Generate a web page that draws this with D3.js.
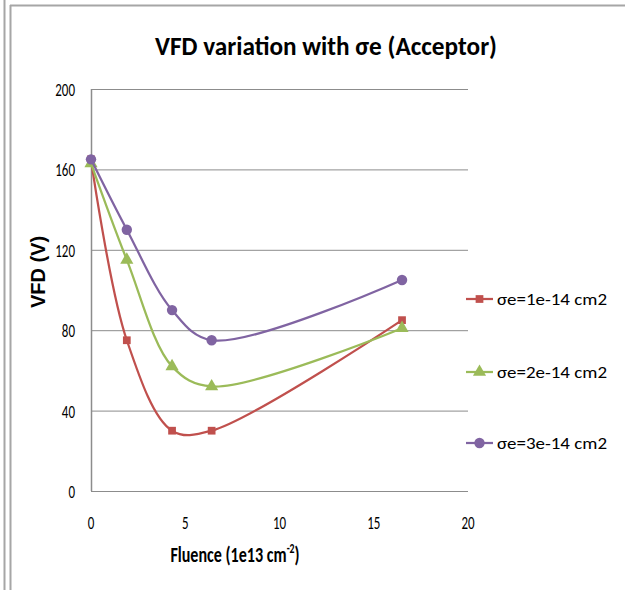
<!DOCTYPE html>
<html>
<head>
<script src="https://cdn.jsdelivr.net/npm/d3@7/dist/d3.min.js"></script>
<style>
  body { margin: 0; background: #fff; }
  svg { display: block; }
</style>
</head>
<body>
<svg id="chart" width="625" height="590"></svg>
<script>
// data
var fluence = [0, 1.9, 4.3, 6.4, 16.5];
var vfd1 = [165, 75, 30, 30, 85];
var vfd2 = [163, 115, 62, 52, 81];
var vfd3 = [165, 130, 90, 75, 105];
var seriesNames = ["σe=1e-14 cm2", "σe=2e-14 cm2", "σe=3e-14 cm2"];
var seriesColors = ["#c0504d", "#9bbb59", "#8064a2"];
var xTicks = [0, 5, 10, 15, 20];
var yTicks = [0, 40, 80, 120, 160, 200];

var svg = d3.select("#chart");

// outer frame (double left edge, top edge)
svg.append("line").attr("x1", 4.5).attr("y1", 0).attr("x2", 4.5).attr("y2", 590).attr("stroke", "#a6a6a6").attr("stroke-width", 2);
svg.append("line").attr("x1", 10.5).attr("y1", 5).attr("x2", 10.5).attr("y2", 590).attr("stroke", "#a6a6a6").attr("stroke-width", 2);
svg.append("line").attr("x1", 10).attr("y1", 5.5).attr("x2", 625).attr("y2", 5.5).attr("stroke", "#a6a6a6").attr("stroke-width", 2);

var x = d3.scaleLinear().domain([0, 20]).range([91, 468]);
var y = d3.scaleLinear().domain([0, 200]).range([491, 89]);

var font = "Calibri, Carlito, 'Open Sans', sans-serif";

// gridlines
svg.append("g").selectAll("line").data(yTicks).enter().append("line")
  .attr("x1", x(0)).attr("x2", x(20))
  .attr("y1", function(d){return y(d) + 0.5;}).attr("y2", function(d){return y(d) + 0.5;})
  .attr("stroke", "#8c8c8c").attr("stroke-width", 1);

// y axis line
svg.append("line").attr("x1", x(0) + 0.5).attr("x2", x(0) + 0.5).attr("y1", y(200)).attr("y2", y(0))
  .attr("stroke", "#8c8c8c").attr("stroke-width", 1.5);

// tick labels (condensed look via horizontal scale)
svg.append("g").selectAll("text").data(yTicks).enter().append("text")
  .attr("transform", function(d){return "translate(75," + (y(d) + 7) + ") scale(0.72,1)";})
  .attr("text-anchor", "end").attr("font-family", font).attr("font-size", 18)
  .text(function(d){return d;});

svg.append("g").selectAll("text").data(xTicks).enter().append("text")
  .attr("transform", function(d){return "translate(" + x(d) + ",529) scale(0.72,1)";})
  .attr("text-anchor", "middle").attr("font-family", font).attr("font-size", 18)
  .text(function(d){return d;});

// title
svg.append("text").attr("x", 326).attr("y", 55).attr("text-anchor", "middle")
  .attr("font-family", font).attr("font-weight", "bold").attr("font-size", 27)
  .attr("textLength", 342).attr("lengthAdjust", "spacingAndGlyphs")
  .text("VFD variation with σe (Acceptor)");

// x axis title
var xt = svg.append("text").attr("transform", "translate(235,562) scale(0.7,1)").attr("text-anchor", "middle")
  .attr("font-family", font).attr("font-weight", "bold").attr("font-size", 23);
xt.append("tspan").text("Fluence (1e13 cm");
xt.append("tspan").attr("font-size", 14).attr("dy", -9).text("-2");
xt.append("tspan").attr("dy", 9).text(")");

// y axis title
svg.append("text").attr("transform", "translate(45,272) rotate(-90)").attr("text-anchor", "middle")
  .attr("font-family", "'Liberation Sans', Arial, sans-serif").attr("font-weight", "bold").attr("font-size", 20)
  .text("VFD (V)");

// series
var allSeries = [vfd1, vfd2, vfd3];
var line = d3.line()
  .x(function(d){return x(d[0]);})
  .y(function(d){return y(d[1]);})
  .curve(d3.curveCatmullRom.alpha(0.5));

var symbols = [d3.symbolSquare, d3.symbolTriangle, d3.symbolCircle];
var symSizes = [60, 75, 85];

allSeries.forEach(function(vals, i){
  var pts = fluence.map(function(f, j){return [f, vals[j]];});
  svg.append("path").attr("d", line(pts)).attr("fill", "none")
    .attr("stroke", seriesColors[i]).attr("stroke-width", 2.25);
  svg.append("g").selectAll("path").data(pts).enter().append("path")
    .attr("d", d3.symbol().type(symbols[i]).size(symSizes[i]))
    .attr("transform", function(d){return "translate(" + x(d[0]) + "," + y(d[1]) + ")";})
    .attr("fill", seriesColors[i]);
});

// legend
var legendY = [299, 372, 443];
var lg = svg.append("g").selectAll("g").data(seriesNames).enter().append("g")
  .attr("transform", function(d, i){return "translate(466," + legendY[i] + ")";});
lg.append("line").attr("x1", 0).attr("x2", 27).attr("y1", 0).attr("y2", 0)
  .attr("stroke", function(d, i){return seriesColors[i];}).attr("stroke-width", 2.25);
lg.append("path")
  .attr("d", function(d, i){return d3.symbol().type(symbols[i]).size(symSizes[i])();})
  .attr("transform", "translate(13.5,0)")
  .attr("fill", function(d, i){return seriesColors[i];});
lg.append("text").attr("x", 31).attr("y", 6).attr("font-family", font).attr("font-size", 17)
  .attr("textLength", 110).attr("lengthAdjust", "spacingAndGlyphs")
  .text(function(d){return d;});
</script>
</body>
</html>
